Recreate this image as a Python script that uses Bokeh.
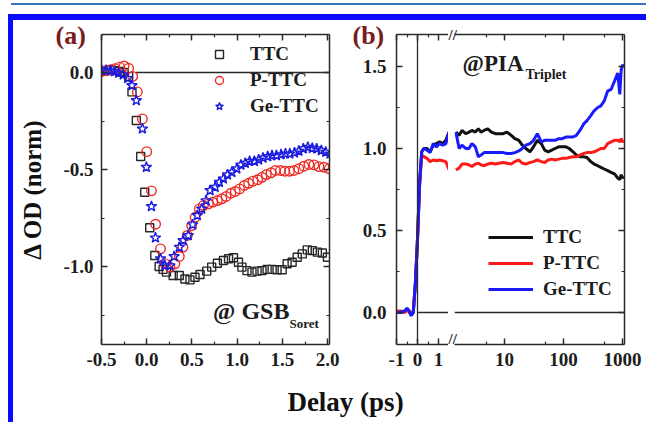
from bokeh.plotting import figure
from bokeh.models import (LinearAxis, LogAxis, FixedTicker, Range1d, Span, Label, Title,
                          Legend, LegendItem, Div, Spacer, PrintfTickFormatter)
from bokeh.layouts import row, column
from bokeh.embed import file_html
from bokeh.resources import INLINE

FONT = "Liberation Serif"

# ---------------- panel (a) data: GSB (Soret) kinetics ----------------
t_ttc = [-0.50, -0.45, -0.40, -0.35, -0.30, -0.25, -0.20, -0.163, -0.115, -0.067, -0.022,
         0.033, 0.089, 0.137, 0.18, 0.218, 0.292, 0.36, 0.422, 0.478, 0.533, 0.589, 0.663,
         0.718, 0.781, 0.848, 0.904, 0.959, 1.014, 1.052, 1.108, 1.163, 1.219, 1.274, 1.33,
         1.386, 1.44, 1.497, 1.552, 1.607, 1.663, 1.719, 1.774, 1.83, 1.886, 1.941, 1.997]
v_ttc = [0.01, 0.01, 0.012, 0.01, 0.005, 0.0, -0.02, -0.10, -0.247, -0.433, -0.617,
         -0.80, -0.943, -1.0, -1.015, -1.029, -1.046, -1.046, -1.064, -1.069, -1.055, -1.041, -1.024,
         -1.003, -0.983, -0.969, -0.96, -0.955, -0.978, -1.003, -1.021, -1.029, -1.024, -1.021, -1.015,
         -1.015, -1.017, -1.017, -0.986, -0.978, -0.952, -0.935, -0.914, -0.918, -0.926, -0.93, -0.952]

t_pttc = [-0.50, -0.45, -0.40, -0.35, -0.30, -0.25, -0.20, -0.155, -0.104, -0.048, 0.0,
          0.052, 0.098, 0.152, 0.20, 0.256, 0.311, 0.36, 0.40, 0.448, 0.497, 0.535, 0.581,
          0.626, 0.682, 0.73, 0.781, 0.83, 0.878, 0.93, 0.978, 1.026, 1.078, 1.126, 1.174,
          1.226, 1.274, 1.322, 1.374, 1.422, 1.478, 1.526, 1.578, 1.626, 1.681, 1.737, 1.792,
          1.848, 1.903, 1.959, 2.014]
v_pttc = [0.005, 0.01, 0.014, 0.02, 0.028, 0.034, 0.022, -0.02, -0.10, -0.239, -0.408,
          -0.61, -0.782, -0.909, -0.985, -1.003, -0.986, -0.948, -0.90, -0.84, -0.789, -0.746, -0.703,
          -0.686, -0.677, -0.668, -0.66, -0.651, -0.639, -0.622, -0.613, -0.60, -0.582, -0.571, -0.56,
          -0.553, -0.54, -0.526, -0.517, -0.505, -0.505, -0.509, -0.509, -0.505, -0.496, -0.483, -0.474,
          -0.476, -0.485, -0.488, -0.496]

t_ge = [-0.50, -0.45, -0.40, -0.356, -0.31, -0.26, -0.21, -0.163, -0.115, -0.048, -0.004,
        0.052, 0.096, 0.152, 0.20, 0.256, 0.303, 0.36, 0.403, 0.459, 0.507, 0.559, 0.607,
        0.656, 0.70, 0.756, 0.803, 0.848, 0.893, 0.941, 0.996, 1.041, 1.089, 1.137, 1.189,
        1.237, 1.285, 1.337, 1.385, 1.433, 1.485, 1.533, 1.581, 1.633, 1.681, 1.73, 1.781,
        1.83, 1.878, 1.93, 1.978, 2.026]
v_ge = [0.012, 0.012, 0.01, 0.005, -0.003, -0.012, -0.03, -0.067, -0.144, -0.29, -0.488,
        -0.69, -0.852, -0.96, -0.995, -0.995, -0.948, -0.90, -0.866, -0.84, -0.784, -0.737, -0.703,
        -0.66, -0.608, -0.591, -0.565, -0.548, -0.527, -0.514, -0.496, -0.476, -0.467, -0.457, -0.457,
        -0.45, -0.44, -0.433, -0.428, -0.428, -0.423, -0.419, -0.419, -0.414, -0.405, -0.393, -0.385,
        -0.39, -0.393, -0.402, -0.41, -0.419]

# ---------------- panel (b) data: triplet PIA kinetics ----------------
t_b = [-1.0, -0.8, -0.6, -0.5, -0.4, -0.3, -0.2, -0.1, 0.0, 0.1,
       0.2, 0.3, 0.45, 0.6, 0.75, 0.9, 1.05, 1.2, 1.35, 1.5,
       1.7, 1.9, 2.2, 2.5, 2.8, 3.2, 3.6, 4.0, 4.5, 5.2,
       6.0, 7.0, 8.0, 9.5, 11, 13, 15, 17.5, 20, 23,
       27, 31, 36, 42, 48, 55, 63, 72, 83, 95,
       110, 125, 145, 165, 190, 220, 250, 290, 330, 380,
       430, 490, 560, 640, 730, 830, 900, 950, 1000, 1050]
b_ttc = [0.0, 0.0, 0.01, 0.025, 0.01, -0.015, 0.0, 0.18, 0.45, 0.78,
         0.98, 1.0, 1.0, 0.98, 1.02, 1.03, 1.04, 1.03, 1.05, 1.10,
         1.08, 1.11, 1.09, 1.10, 1.11, 1.10, 1.12, 1.10, 1.11, 1.12,
         1.10, 1.09, 1.09, 1.09, 1.10, 1.08, 1.06, 1.05, 1.02, 1.0,
         0.98, 1.01, 1.05, 1.03, 0.99, 0.98, 0.99, 1.0, 1.01, 1.01,
         1.01, 1.0, 0.98, 0.96, 0.95, 0.95, 0.945, 0.92, 0.905, 0.895,
         0.885, 0.875, 0.865, 0.855, 0.845, 0.82, 0.81, 0.84, 0.82, 0.83]
b_pttc = [0.01, 0.01, 0.0, 0.02, 0.0, -0.01, 0.01, 0.18, 0.43, 0.78,
          0.96, 0.95, 0.94, 0.92, 0.93, 0.925, 0.93, 0.925, 0.92, 0.87,
          0.88, 0.905, 0.905, 0.90, 0.89, 0.905, 0.91, 0.90, 0.895, 0.905,
          0.91, 0.905, 0.91, 0.915, 0.91, 0.905, 0.92, 0.93, 0.91, 0.905,
          0.915, 0.92, 0.93, 0.92, 0.915, 0.93, 0.935, 0.93, 0.935, 0.94,
          0.94, 0.945, 0.95, 0.95, 0.96, 0.97, 0.975, 0.975, 0.98, 0.99,
          1.0, 1.0, 1.03, 1.04, 1.05, 1.05, 1.04, 1.06, 1.04, 1.05]
b_ge = [0.0, 0.0, 0.01, 0.025, 0.01, -0.02, 0.0, 0.18, 0.45, 0.79,
        0.98, 1.0, 0.99, 0.975, 1.03, 1.01, 1.03, 1.02, 1.03, 1.10,
        1.0, 1.02, 1.0, 1.0, 1.03, 1.01, 0.95, 0.96, 0.975, 0.975,
        0.975, 0.975, 0.975, 0.975, 0.97, 0.97, 0.975, 0.985, 1.0, 1.02,
        1.03, 1.05, 1.09, 1.04, 1.05, 1.05, 1.05, 1.05, 1.06, 1.06,
        1.07, 1.07, 1.07, 1.08, 1.11, 1.15, 1.17, 1.20, 1.23, 1.25,
        1.26, 1.29, 1.35, 1.36, 1.41, 1.46, 1.33, 1.48, 1.51, 1.50]

series_names = ["TTC", "P-TTC", "Ge-TTC"]

# ticks
a_xticks, a_xminor = [-0.5, 0.0, 0.5, 1.0, 1.5, 2.0], [-0.25, 0.25, 0.75, 1.25, 1.75]
a_yticks, a_yminor = [-1.0, -0.5, 0.0], [-1.25, -0.75, -0.25]
b_yticks, b_yminor = [0.0, 0.5, 1.0, 1.5], [0.25, 0.75, 1.25]
b_lin_ticks, b_lin_minor = [-1, 0, 1], [-0.5, 0.5]
b_log_ticks, b_log_minor = [10, 100, 1000], [5, 50, 500]
LIN_MAX = 1.5   # end of linear part of the broken axis

AX_COL = "#2a2a2a"
FRAME_BLUE = "#0a0aff"


def style_axis(ax, ticks, labels=True, fmt="%.1f"):
    ax.axis_line_width = 1.5
    ax.axis_line_color = AX_COL
    ax.major_tick_in = 6
    ax.major_tick_out = 0
    ax.minor_tick_in = 3
    ax.minor_tick_out = 0
    ax.major_tick_line_width = 1.5
    ax.major_tick_line_color = AX_COL
    ax.minor_tick_line_width = 1.2
    ax.minor_tick_line_color = AX_COL
    ax.major_label_text_font = FONT
    ax.major_label_text_font_style = "bold"
    ax.major_label_text_color = "#1c1c1c"
    ax.formatter = PrintfTickFormatter(format=fmt)
    if labels:
        ax.major_label_text_font_size = "19px"
        ax.major_label_standoff = 8
    else:
        # mirrored frame axis: ticks only
        ax.major_label_text_font_size = "0px"
        ax.major_label_standoff = 0
        ax.major_label_overrides = {t: "" for t in ticks}


def corner_title(text, size, offset, standoff, valign="bottom", color="#1c1c1c"):
    return Title(text=text, align="left", offset=offset, standoff=standoff,
                 vertical_align=valign, text_font=FONT, text_font_style="bold",
                 text_font_size=size, text_color=color)


H = 356

# ================= panel (a) =================
pa = figure(width=332, height=H, x_range=Range1d(-0.5, 2.02), y_range=Range1d(-1.402, 0.196),
            output_backend="svg", toolbar_location=None,
            min_border_left=88, min_border_right=16, min_border_top=14, min_border_bottom=32)
pa.grid.visible = False
pa.outline_line_color = None
ax_b = pa.below[0]
ax_b.ticker = FixedTicker(ticks=a_xticks, minor_ticks=a_xminor)
style_axis(ax_b, a_xticks)
ax_l = pa.left[0]
ax_l.ticker = FixedTicker(ticks=a_yticks, minor_ticks=a_yminor)
style_axis(ax_l, a_yticks)
ax_l.axis_label = "\u0394 OD (norm)"
ax_l.axis_label_text_font = FONT
ax_l.axis_label_text_font_style = "bold"
ax_l.axis_label_text_font_size = "25px"
ax_l.axis_label_text_color = "#111111"
ax_l.axis_label_standoff = 14
top_a = LinearAxis(ticker=FixedTicker(ticks=a_xticks, minor_ticks=a_xminor))
style_axis(top_a, a_xticks, labels=False)
pa.add_layout(top_a, "above")
right_a = LinearAxis(ticker=FixedTicker(ticks=a_yticks, minor_ticks=a_yminor))
style_axis(right_a, a_yticks, labels=False)
pa.add_layout(right_a, "right")
pa.add_layout(corner_title("(a)", "26px", -46, -30, color="#7a1c1c"), "above")

pa.segment(x0=[-0.12], y0=[0], x1=[2.02], y1=[0], line_color=AX_COL, line_width=1.3)

r_sq = pa.scatter(t_ttc, v_ttc, marker="square", size=8, fill_color=None,
                  line_color="#262626", line_width=1.4)
r_ci = pa.scatter(t_pttc, v_pttc, marker="circle", size=9.5, fill_color=None,
                  line_color="#ee2a24", line_width=1.4)
r_st = pa.scatter(t_ge, v_ge, marker="star", size=11, fill_color=None,
                  line_color="#1c1ce0", line_width=1.4)

leg_a = Legend(items=[LegendItem(label=n, renderers=[r]) for n, r in zip(series_names, [r_sq, r_ci, r_st])],
               location=(108, 227), glyph_width=20, glyph_height=20, label_height=20,
               spacing=4, padding=0, margin=0, label_standoff=21,
               border_line_color=None, background_fill_alpha=0,
               label_text_font=FONT, label_text_font_style="bold",
               label_text_font_size="19px", label_text_color="#1c1c1c")
pa.add_layout(leg_a)

pa.add_layout(Label(x=0.733, y=-1.294, text="@ GSB", text_font=FONT, text_font_style="bold",
                    text_font_size="24px", text_color="#1c1c1c"))
pa.add_layout(Label(x=1.578, y=-1.33, text="Soret", text_font=FONT, text_font_style="bold",
                    text_font_size="13px", text_color="#1c1c1c"))

# ================= panel (b), linear part =================
yr_b = Range1d(-0.195, 1.695)
pb1 = figure(width=103, height=H, x_range=Range1d(-1, 1.476), y_range=yr_b,
             output_backend="svg", toolbar_location=None,
             min_border_left=51, min_border_right=0, min_border_top=14, min_border_bottom=32)
pb1.grid.visible = False
pb1.outline_line_color = None
bx1 = pb1.below[0]
bx1.ticker = FixedTicker(ticks=b_lin_ticks, minor_ticks=b_lin_minor)
style_axis(bx1, b_lin_ticks, fmt="%d")
by1 = pb1.left[0]
by1.ticker = FixedTicker(ticks=b_yticks, minor_ticks=b_yminor)
style_axis(by1, b_yticks)
by1.major_label_standoff = 10
top_b1 = LinearAxis(ticker=FixedTicker(ticks=b_lin_ticks, minor_ticks=b_lin_minor))
style_axis(top_b1, b_lin_ticks, labels=False)
pb1.add_layout(top_b1, "above")
pb1.add_layout(corner_title("(b)", "26px", -44, -30, color="#7a1c1c"), "above")

pb1.add_layout(Span(location=0, dimension="height", line_color=AX_COL, line_width=1.3))
pb1.segment(x0=[0], y0=[0], x1=[LIN_MAX + 0.2], y1=[0], line_color=AX_COL, line_width=1.3)

n_lin = sum(1 for t in t_b if t <= LIN_MAX)
colors = ["#111111", "#ff1a1a", "#1a1aff"]
for vals, c in zip([b_ttc, b_pttc, b_ge], colors):
    pb1.line(t_b[:n_lin], vals[:n_lin], line_color=c, line_width=3)

# ================= panel (b), log part =================
pb2 = figure(width=198, height=H, x_axis_type="log", x_range=Range1d(1.42, 1081), y_range=yr_b,
             y_axis_location="right", output_backend="svg", toolbar_location=None,
             min_border_left=6, min_border_right=22, min_border_top=14, min_border_bottom=32)
pb2.grid.visible = False
pb2.outline_line_color = None
bx2 = pb2.below[0]
bx2.ticker = FixedTicker(ticks=b_log_ticks, minor_ticks=b_log_minor)
style_axis(bx2, b_log_ticks, fmt="%d")
by2 = pb2.right[0]
by2.ticker = FixedTicker(ticks=b_yticks, minor_ticks=b_yminor)
style_axis(by2, b_yticks, labels=False)
top_b2 = LogAxis(ticker=FixedTicker(ticks=b_log_ticks, minor_ticks=b_log_minor))
style_axis(top_b2, b_log_ticks, labels=False)
pb2.add_layout(top_b2, "above")
# axis-break marks
pb2.add_layout(corner_title("//", "15px", -6, -17), "above")
pb2.add_layout(corner_title("//", "15px", -6, -76, valign="top"), "below")

pb2.add_layout(Span(location=0, dimension="width", line_color=AX_COL, line_width=1.3))

i0 = n_lin - 1
lines_b = []
for vals, c in zip([b_ttc, b_pttc, b_ge], colors):
    lines_b.append(pb2.line(t_b[i0:], vals[i0:], line_color=c, line_width=3))

leg_b = Legend(items=[LegendItem(label=n, renderers=[r]) for n, r in zip(series_names, lines_b)],
               location=(34, 44), glyph_width=45, glyph_height=20, label_height=20,
               spacing=4, padding=0, margin=0, label_standoff=10,
               border_line_color=None, background_fill_alpha=0,
               label_text_font=FONT, label_text_font_style="bold",
               label_text_font_size="19px", label_text_color="#1c1c1c")
pb2.add_layout(leg_b)

pb2.add_layout(Label(x=1.94, y=1.445, text="@PIA", text_font=FONT, text_font_style="bold",
                     text_font_size="23px", text_color="#1c1c1c"))
pb2.add_layout(Label(x=22.7, y=1.405, text="Triplet", text_font=FONT, text_font_style="bold",
                     text_font_size="14px", text_color="#1c1c1c"))

# ================= common x label strip =================
px = figure(width=633, height=46, x_range=Range1d(0, 633), y_range=Range1d(0, 46),
            output_backend="svg", toolbar_location=None, min_border=0,
            x_axis_location=None, y_axis_location=None)
px.outline_line_color = None
px.grid.visible = False
px.xgrid.visible = False
px.ygrid.visible = False
px.add_layout(Label(x=332, y=6, text="Delay (ps)", text_font=FONT, text_font_style="bold",
                    text_font_size="27px", text_align="center", text_color="#111111"))

# ================= page decoration (thin rule + blue frame) =================
topline = Div(text="", width=635, height=2, margin=0,
              styles={"background-color": "#3a74bd"})
top_bar = Div(text="", width=638, height=6, margin=0,
              styles={"background-color": FRAME_BLUE})
left_bar = Div(text="", width=5, height=H + 46, margin=0,
               styles={"background-color": FRAME_BLUE})
content = column(row(pa, pb1, pb2), px)
root = column(
    Spacer(width=10, height=3),
    row(Spacer(width=11, height=2), topline),
    Spacer(width=10, height=9),
    row(Spacer(width=8, height=6), top_bar),
    row(Spacer(width=8, height=H + 46), left_bar, content),
)

open("out.html", "w").write(file_html(root, INLINE))
